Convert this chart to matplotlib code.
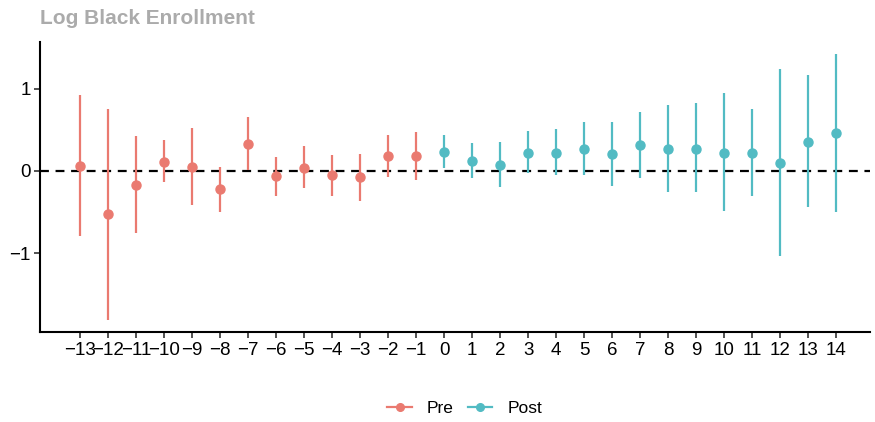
import matplotlib
matplotlib.use("Agg")
import matplotlib.pyplot as plt
from matplotlib.lines import Line2D
import numpy as np

plt.rcParams['font.family'] = ['Liberation Sans', 'DejaVu Sans']

# event time, estimate, confidence bounds
pre_t = [-13, -12, -11, -10, -9, -8, -7, -6, -5, -4, -3, -2, -1]
pre_est = [0.06, -0.52, -0.17, 0.11, 0.05, -0.22, 0.33, -0.06, 0.04, -0.05, -0.08, 0.18, 0.18]
pre_hi = [0.92, 0.75, 0.42, 0.37, 0.52, 0.05, 0.66, 0.17, 0.30, 0.19, 0.20, 0.44, 0.47]
pre_lo = [-0.79, -1.81, -0.76, -0.13, -0.41, -0.50, 0.01, -0.30, -0.21, -0.30, -0.37, -0.07, -0.11]

post_t = [0, 1, 2, 3, 4, 5, 6, 7, 8, 9, 10, 11, 12, 13, 14]
post_est = [0.23, 0.12, 0.07, 0.22, 0.22, 0.27, 0.20, 0.31, 0.27, 0.27, 0.22, 0.22, 0.10, 0.35, 0.46]
post_hi = [0.44, 0.34, 0.35, 0.48, 0.51, 0.60, 0.59, 0.72, 0.80, 0.82, 0.95, 0.75, 1.24, 1.16, 1.42]
post_lo = [0.03, -0.09, -0.19, -0.02, -0.05, -0.05, -0.18, -0.09, -0.26, -0.26, -0.49, -0.30, -1.03, -0.44, -0.50]

pre_col = '#EA7A70'
post_col = '#52BBC3'

fig = plt.figure(figsize=(8.75, 4.22), dpi=100)
ax = fig.add_axes([0.046, 0.213, 0.948, 0.688])

ax.axhline(0, color='black', lw=1.6, ls=(0, (4, 3)), zorder=1)

for t, est, hi, lo, c in [(pre_t, pre_est, pre_hi, pre_lo, pre_col),
                          (post_t, post_est, post_hi, post_lo, post_col)]:
    est = np.array(est)
    err = [est - np.array(lo), np.array(hi) - est]
    ax.errorbar(t, est, yerr=err, fmt='o', color=c, ms=6.5, elinewidth=1.6,
                capsize=0, zorder=3)

ax.set_xlim(-14.43, 15.2)
ax.set_ylim(-1.96, 1.57)
ax.set_xticks(pre_t + post_t)
ax.set_xticklabels([str(v).replace('-', '\u2212') for v in pre_t + post_t])
ax.set_yticks([-1, 0, 1])
ax.set_yticklabels(['\u22121', '0', '1'])
ax.tick_params(labelsize=13.5, length=4, width=1.2, color='#333333', labelcolor='black', pad=3)
for s in ['top', 'right']:
    ax.spines[s].set_visible(False)
for s in ['left', 'bottom']:
    ax.spines[s].set_linewidth(1.5)

fig.text(0.046, 0.957, 'Log Black Enrollment', fontsize=15, fontweight='bold',
         color='#ABABAB', ha='left', va='center')

handles = [Line2D([], [], color=pre_col, marker='o', ms=5.5, lw=1.6),
           Line2D([], [], color=post_col, marker='o', ms=5.5, lw=1.6)]
fig.legend(handles, ['Pre', 'Post'], loc='center', bbox_to_anchor=(0.531, 0.033),
           ncol=2, frameon=False, fontsize=12.5, handlelength=1.4, columnspacing=0.85,
           handletextpad=0.85)

fig.savefig('out.png', dpi=100)
